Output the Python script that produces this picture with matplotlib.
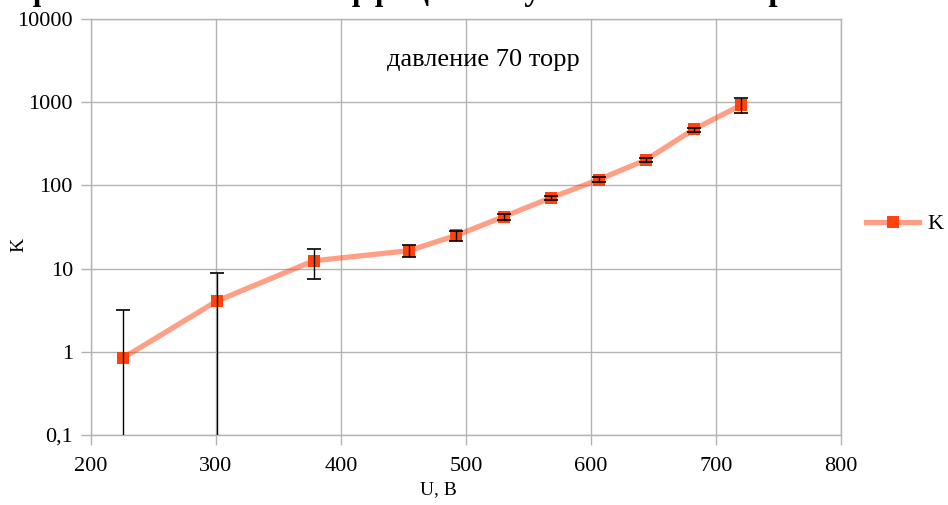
import matplotlib
matplotlib.use("Agg")
import matplotlib.pyplot as plt
from matplotlib.lines import Line2D

plt.rcParams['font.family'] = ['Liberation Serif', 'DejaVu Serif']

# напряжение, коэффициент усиления и погрешность
u = [226, 301, 378, 454, 492, 530, 568, 606, 644, 682, 720]
k = [0.85, 4.1, 12.4, 16.4, 25, 42, 71, 117, 203, 470, 920]
k_err = [2.35, 4.8, 4.9, 2.7, 3.5, 3.5, 3.5, 7.5, 11.5, 26, 188]

yticks = [0.1, 1, 10, 100, 1000, 10000]
ytick_labels = ["0,1", "1", "10", "100", "1000", "10000"]
xticks = [200, 300, 400, 500, 600, 700, 800]

grid_c = '#b3b3b3'
red = '#ff420e'

fig = plt.figure(figsize=(9.48, 5.05), dpi=100)
ax = fig.add_axes([91/948, 1 - 435/505, 750/948, 416/505])
ax.set_yscale('log')
ax.set_xlim(200, 800)
ax.set_ylim(0.1, 10000)
ax.set_xticks(xticks)
ax.set_xticklabels([str(t) for t in xticks])
ax.set_yticks(yticks)
ax.set_yticklabels(ytick_labels)
ax.yaxis.set_minor_locator(matplotlib.ticker.NullLocator())
ax.grid(True, color=grid_c, lw=1)
ax.set_axisbelow(True)
for s in ax.spines.values():
    s.set_color(grid_c)
    s.set_linewidth(1)
ax.tick_params(axis='both', color=grid_c, length=7, width=1, labelsize=16)
ax.tick_params(axis='y', pad=6)
ax.tick_params(axis='x', pad=9)

ax.plot(u, k, color=red, alpha=0.5, lw=3.8, solid_capstyle='butt', zorder=3)
ax.plot(u, k, ls='none', marker='s', ms=9, color=red, mew=0, zorder=4)
ax.errorbar(u, k, yerr=k_err, fmt='none', ecolor='black', elinewidth=1,
            capsize=4.7, capthick=1.2, zorder=5)

handle = Line2D([], [], color='#ff9e86', lw=3.8, marker='s', ms=9,
                mfc=red, mec=red, mew=0)
fig.legend([handle], ['K'], loc='center left', bbox_to_anchor=(866/948, 1 - 224/505),
           frameon=False, fontsize=16, handlelength=2.4, handletextpad=0.35,
           borderpad=0, borderaxespad=0)

ax.text(0.523, 0.901, 'давление 70 торр', transform=ax.transAxes,
        ha='center', va='center', fontsize=19)

ax.set_xlabel('U, B', fontsize=14)
ax.xaxis.set_label_coords(0.463, -0.112)
ax.set_ylabel('K', fontsize=14)
ax.yaxis.set_label_coords(-0.085, 0.457)

fig.text(0.46, 1.0, 'График зависимости коэффициента усиления от напряжения',
         ha='center', va='baseline', fontsize=24, fontweight='bold')

fig.savefig('out.png', dpi=100)
